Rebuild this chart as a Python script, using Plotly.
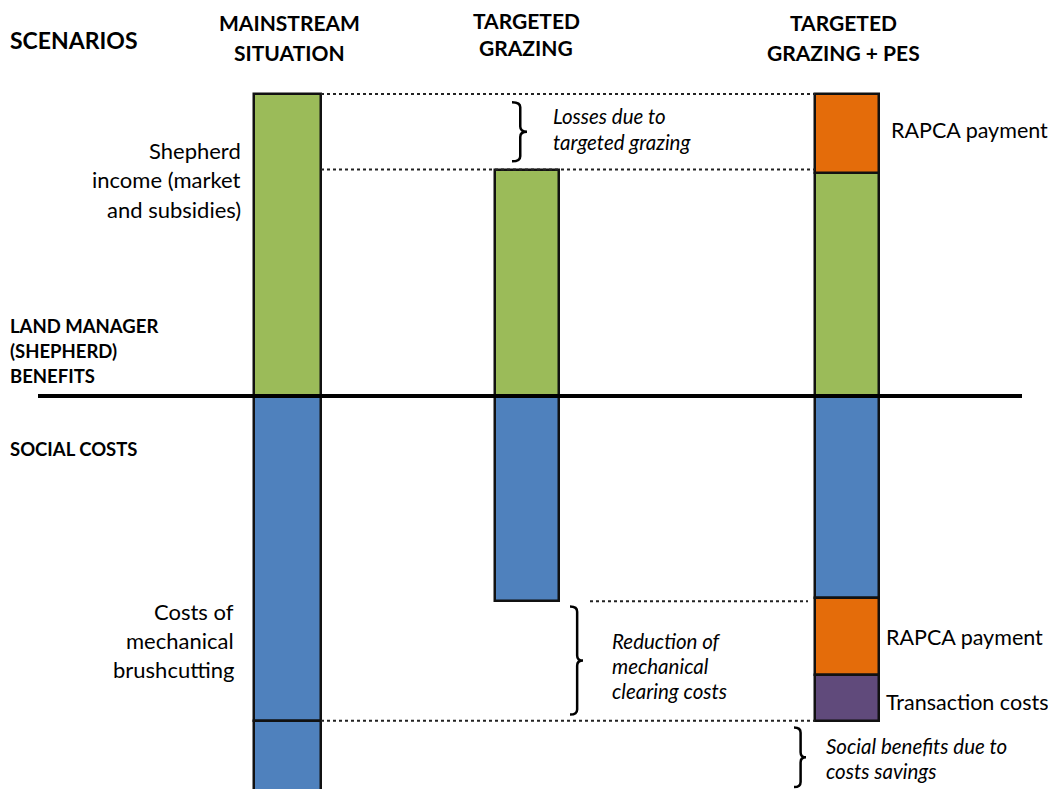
import plotly.graph_objects as go

# ---------------- data ----------------
scenarios = ["MAINSTREAM SITUATION", "TARGETED GRAZING", "TARGETED GRAZING + PES"]
shepherd_income = [10.0, 7.5, 7.4]          # benefits (up)
rapca_payment_benefit = [0.0, 0.0, 2.6]     # benefits (up)
mechanical_costs = [10.75, 6.8, 6.7]        # costs (down)
rapca_payment_cost = [0.0, 0.0, 2.55]       # costs (down)
transaction_costs = [0.0, 0.0, 1.5]         # costs (down)
cost_savings_part = [2.4, 0.0, 0.0]         # remaining mechanical costs of mainstream (down)

header_lines = [["MAINSTREAM", "SITUATION"], ["TARGETED", "GRAZING"], ["TARGETED", "GRAZING + PES"]]

# ---------------- layout constants ----------------
VW, VH = 1056, 789          # browser viewport
OFF = 8                     # default page body margin
Z, K = 396.0, 30.2          # zero pixel row, pixels per unit
def uy(p):
    return (Z - p) / K

xpos = [287.5, 527, 847]
bw = [67, 64, 64]

GREEN = "#9BBB59"
BLUE = "#4F81BD"
ORANGE = "#E46C0A"
PURPLE = "#604A7B"
EDGE = "#111111"

fig = go.Figure()

def add_seg(vals, color, sign):
    xs, ys, ws = [], [], []
    for i, v in enumerate(vals):
        if v:
            xs.append(xpos[i]); ys.append(sign * v); ws.append(bw[i])
    fig.add_trace(go.Bar(x=xs, y=ys, width=ws, marker=dict(color=color, line=dict(color=EDGE, width=2.5)),
                         showlegend=False, hoverinfo="skip"))

add_seg(shepherd_income, GREEN, 1)
add_seg(rapca_payment_benefit, ORANGE, 1)
add_seg(mechanical_costs, BLUE, -1)
add_seg(rapca_payment_cost, ORANGE, -1)
add_seg(transaction_costs, PURPLE, -1)
add_seg(cost_savings_part, BLUE, -1)

shapes = []
# zero line
shapes.append(dict(type="line", xref="x", yref="y", x0=38, x1=1022, y0=0, y1=0,
                   line=dict(color="black", width=4)))

def dotted(x0, x1, y):
    shapes.append(dict(type="line", xref="x", yref="y", x0=x0, x1=x1, y0=y, y1=y,
                       line=dict(color="#222222", width=2, dash="dot")))

r1 = xpos[0] + bw[0] / 2
l3 = xpos[2] - bw[2] / 2
dotted(r1, l3, shepherd_income[0])
dotted(r1, l3, shepherd_income[1])
dotted(590, l3 - 7, -mechanical_costs[1])
dotted(r1, l3, -mechanical_costs[0])

def brace(x0, tip, y_top, y_bot):
    xm = x0 + (tip - x0) * 0.55
    ym = (y_top + y_bot) / 2
    r = 0.17
    p = (f"M {x0},{y_top} Q {xm},{y_top} {xm},{y_top - r} L {xm},{ym + r} "
         f"Q {xm},{ym} {tip},{ym} Q {xm},{ym} {xm},{ym - r} L {xm},{y_bot + r} "
         f"Q {xm},{y_bot} {x0},{y_bot}")
    shapes.append(dict(type="path", xref="x", yref="y", path=p,
                       line=dict(color="black", width=2.5)))

brace(512, 527, shepherd_income[0] - 0.27, shepherd_income[1] + 0.27)
brace(570, 583, -mechanical_costs[1] - 0.17, -mechanical_costs[0] + 0.2)
brace(794, 806, -mechanical_costs[0] - 0.23, -(mechanical_costs[0] + cost_savings_part[0]) + 0.2)

ann = []
def label(lines, x, y0, dy, size, anchor="left", bold=False, italic=False):
    for j, t in enumerate(lines):
        txt = f"<b>{t}</b>" if bold else t
        if italic:
            txt = f"<i>{txt}</i>"
        ann.append(dict(text=txt, x=x, y=uy(y0 + j * dy), xref="x", yref="y", showarrow=False,
                        xanchor=anchor, yanchor="middle", borderpad=0, borderwidth=0,
                        font=dict(family="Lato", size=size, color="black")))

label(["SCENARIOS"], 10, 40, 0, 23, bold=True)
label(header_lines[0], 289, 22, 30, 21, anchor="center", bold=True)
label(header_lines[1], 526, 20, 27, 21, anchor="center", bold=True)
label(header_lines[2], 843, 22, 30, 21, anchor="center", bold=True)

label(["Shepherd", "income (market", "and subsidies)"], 241, 150, 29.5, 22, anchor="right")
label(["LAND MANAGER", "(SHEPHERD)", "BENEFITS"], 10, 326, 25, 18.5, bold=True)
label(["SOCIAL COSTS"], 10, 449, 0, 18.5, bold=True)
label(["Costs of", "mechanical", "brushcutting"], 234, 611, 29, 22, anchor="right")

label(["RAPCA payment"], 891, 130, 0, 21.5)
label(["RAPCA payment"], 886, 637, 0, 21.5)
label(["Transaction costs"], 886, 702, 0, 21.5)

label(["Losses due to", "targeted grazing"], 553, 116, 26, 20.5, italic=True)
label(["Reduction of", "mechanical", "clearing costs"], 612, 641, 25, 20.5, italic=True)
label(["Social benefits due to", "costs savings"], 826, 746, 25, 20.5, italic=True)

fig.update_layout(
    width=VW - OFF, height=VH - OFF, margin=dict(l=0, r=0, t=0, b=0),
    paper_bgcolor="white", plot_bgcolor="white",
    barmode="relative", bargap=0,
    xaxis=dict(range=[OFF, VW], visible=False, fixedrange=True),
    yaxis=dict(range=[uy(VH), uy(OFF)], visible=False, fixedrange=True),
    shapes=shapes, annotations=ann,
    font=dict(family="Lato"),
)

fig.write_html("out.html", config={"displayModeBar": False})
